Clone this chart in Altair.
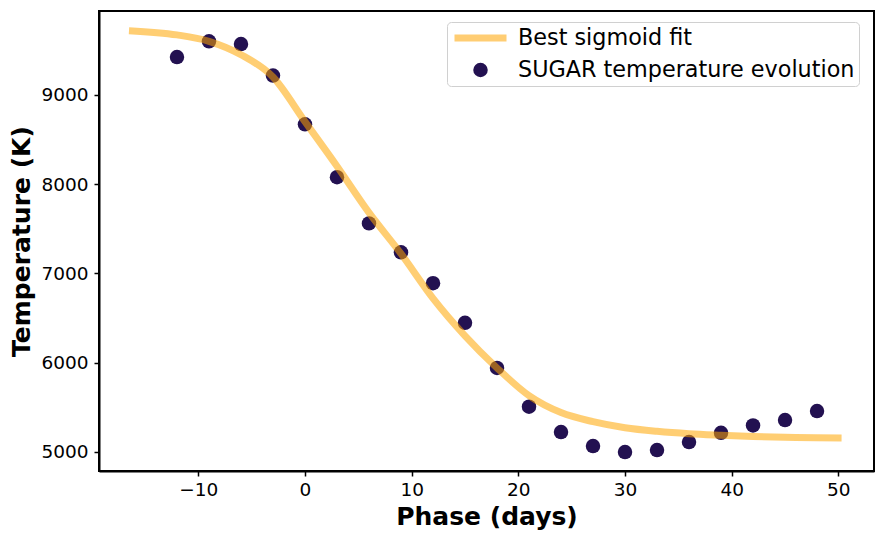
import altair as alt
import pandas as pd

# SUGAR temperature evolution (observed points)
phase = [-12, -9, -6, -3, 0, 3, 6, 9, 12, 15, 18, 21, 24, 27, 30, 33, 36, 39, 42, 45, 48]
temp = [9424, 9600, 9570, 9217, 8670, 8078, 7560, 7236, 6890, 6446, 5940, 5506,
        5221, 5064, 4997, 5019, 5109, 5213, 5296, 5356, 5457]

# Best sigmoid fit
fit_phase = [-16.5, -12, -9, -6, -3, 0, 3, 6, 9, 12, 15, 18, 21, 24, 27, 30, 33, 36, 39, 42, 45, 50.3]
fit_temp = [9720, 9672, 9600, 9450, 9200, 8700, 8200, 7680, 7220, 6720, 6300, 5940,
            5630, 5440, 5338, 5270, 5230, 5203, 5186, 5172, 5162, 5155]

FIT = "Best sigmoid fit"
OBS = "SUGAR temperature evolution"
series = [FIT, OBS]

pts = pd.DataFrame({"phase": phase, "temp": temp, "series": OBS})
fit = pd.DataFrame({"phase": fit_phase, "temp": fit_temp, "series": FIT})

FONT = "DejaVu Sans"
ORANGE = "#FFA500"
ORANGE_ON_WHITE = "#FFCD73"
DARK = "#231151"

xscale = alt.Scale(domain=[-19.31, 53.34], nice=False, zero=False)
yscale = alt.Scale(domain=[4785, 9940], nice=False, zero=False)

minus_expr = "replace(datum.label, '-', '\u2212')"
xaxis = alt.Axis(values=[-10, 0, 10, 20, 30, 40, 50], format="d", labelExpr=minus_expr,
                 title="Phase (days)")
yaxis = alt.Axis(values=[5000, 6000, 7000, 8000, 9000], format="d", title="Temperature (K)")

legend = alt.Legend(
    title=None,
    orient="none",
    legendX=348,
    legendY=11,
    padding=4,
    fillColor="white",
    strokeColor="#d0d0d0",
    cornerRadius=4,
    labelFont=FONT,
    labelFontSize=22.3,
    labelColor="black",
    labelLimit=1000,
    labelOffset=8,
    rowPadding=8,
    clipHeight=24,
    symbolOpacity=1,
)

points = alt.Chart(pts).mark_point(filled=True, opacity=1).encode(
    x=alt.X("phase:Q", scale=xscale, axis=xaxis),
    y=alt.Y("temp:Q", scale=yscale, axis=yaxis),
    fill=alt.Fill("series:N", scale=alt.Scale(domain=series, range=["rgba(0,0,0,0)", DARK]), legend=legend),
    stroke=alt.Stroke("series:N", scale=alt.Scale(domain=series, range=[ORANGE_ON_WHITE, DARK]), legend=legend),
    shape=alt.Shape("series:N", scale=alt.Scale(domain=series, range=["stroke", "circle"]), legend=legend),
    size=alt.Size("series:N", scale=alt.Scale(domain=series, range=[2704, 210]), legend=legend),
    strokeWidth=alt.StrokeWidth("series:N", scale=alt.Scale(domain=series, range=[7, 0]), legend=legend),
)

line = alt.Chart(fit).mark_line(
    color=ORANGE, strokeWidth=7, opacity=0.55, interpolate="monotone"
).encode(
    x=alt.X("phase:Q", scale=xscale, axis=xaxis),
    y=alt.Y("temp:Q", scale=yscale, axis=yaxis),
    detail="series:N",
)

chart = (
    alt.layer(points, line)
    .properties(
        width=775,
        height=460,
        autosize=alt.AutoSizeParams(type="none"),
        padding={"left": 91, "top": 3, "right": 1, "bottom": 61},
    )
    .configure_view(stroke="black", strokeWidth=2)
    .configure_axis(
        grid=False,
        domainColor="black",
        domainWidth=2,
        tickColor="black",
        tickWidth=1.5,
        tickSize=5,
        labelFont=FONT,
        labelFontSize=18.5,
        labelColor="black",
        titleFont=FONT,
        titleFontSize=25,
        titleFontWeight="bold",
        titleColor="black",
    )
    .configure_axisX(labelPadding=4, titlePadding=6)
    .configure_axisY(labelPadding=6, titlePadding=6)
)

chart.save("out.html", embed_options={"renderer": "svg", "actions": False})
